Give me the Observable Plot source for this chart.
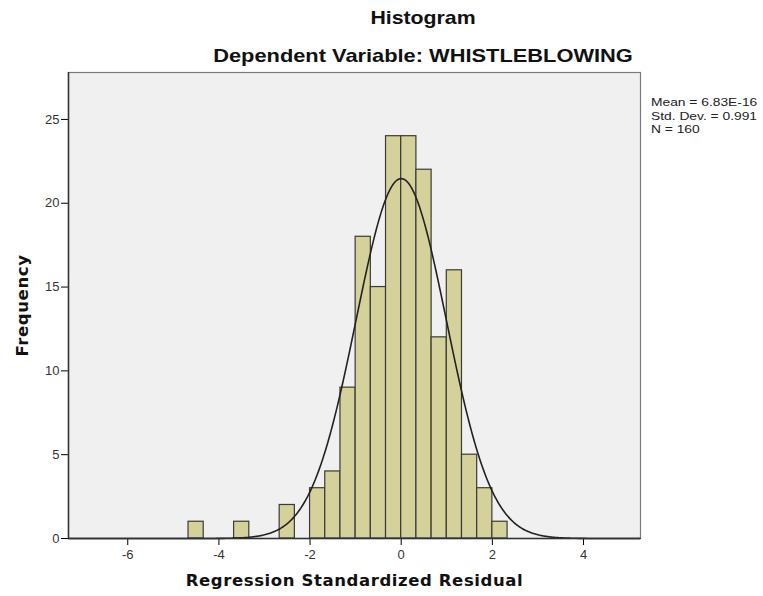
<!DOCTYPE html>
<html>
<head>
<meta charset="utf-8">
<script src="https://cdn.jsdelivr.net/npm/d3@7"></script>
<script src="https://cdn.jsdelivr.net/npm/@observablehq/plot@0.6"></script>
<style>
  html, body { margin: 0; padding: 0; background: #fff; }
  #wrap { position: relative; width: 763px; height: 596px; overflow: hidden; }
  .t { position: absolute; font-family: "Liberation Sans", Arial, sans-serif; font-weight: bold; color: #111; white-space: nowrap; left: 0; width: 846px; text-align: center; transform-origin: 423px 50%; }
  #title { top: 7px; font-size: 18.5px; transform: scaleX(1.15); }
  #subtitle { top: 45px; font-size: 18.5px; transform: scaleX(1.18); }
  .lg { position: absolute; left: 651px; font-family: "Liberation Sans", Arial, sans-serif; font-size: 11.5px; line-height: 13px; height: 13px; color: #222; white-space: nowrap; transform: scaleX(1.2); transform-origin: 0 0; }
  svg [aria-label="x-axis label"] text, svg [aria-label="y-axis label"] text { font-family: "DejaVu Sans", Verdana, sans-serif; font-weight: bold; font-size: 16.5px; fill: #111; letter-spacing: 0.6px; }
  svg [aria-label="x-axis tick label"] text, svg [aria-label="y-axis tick label"] text { font-family: "Liberation Sans", Arial, sans-serif; font-size: 13px; fill: #333; }
</style>
</head>
<body>
<div id="wrap">
  <div id="chart"></div>
  <div class="t" id="title">Histogram</div>
  <div class="t" id="subtitle">Dependent Variable: WHISTLEBLOWING</div>
  <div class="lg" style="top:96px">Mean = 6.83E-16</div>
  <div class="lg" style="top:109.5px">Std. Dev. = 0.991</div>
  <div class="lg" style="top:123px">N = 160</div>
</div>
<script>
// Histogram bins (left edges) and frequencies
const binStart = [-4.6667, -3.6667, -2.6667, -2.0, -1.6667, -1.3333, -1.0, -0.6667, -0.3333, 0.0, 0.3333, 0.6667, 1.0, 1.3333, 1.6667, 2.0];
const counts   = [1, 1, 2, 3, 4, 9, 18, 15, 24, 24, 22, 12, 16, 5, 3, 1];
const binWidth = 1 / 3;

// Summary statistics shown in the legend
const mean = 6.83e-16;
const stdDev = 0.991;
const n = 160;

const xTicks = [-6, -4, -2, 0, 2, 4];
const yTicks = [0, 5, 10, 15, 20, 25];

const xDomain = [-7.3, 5.25];
const yDomain = [0, 27.8];

const bars = binStart.map((s, i) => ({x1: s, x2: s + binWidth, count: counts[i]}));

// Normal curve implied by mean, std. dev., N and bin width
const curve = d3.range(xDomain[0], xDomain[1] + 0.001, 0.02).map(x => ({
  x,
  y: n * binWidth * Math.exp(-0.5 * ((x - mean) / stdDev) ** 2) / (stdDev * Math.sqrt(2 * Math.PI))
}));

const chart = Plot.plot({
  width: 763,
  height: 596,
  marginLeft: 68,
  marginRight: 123,
  marginTop: 72,
  marginBottom: 58,
  style: {background: "transparent", overflow: "visible"},
  x: {domain: xDomain, ticks: xTicks, tickFormat: d => d < 0 ? "-" + Math.abs(d) : String(d), label: "Regression Standardized Residual", labelArrow: "none", labelAnchor: "center", labelOffset: 47, tickSize: 7, tickPadding: 4},
  y: {domain: yDomain, ticks: yTicks, label: "Frequency", labelArrow: "none", labelAnchor: "center", labelOffset: 52, tickSize: 7, tickPadding: 2},
  marks: [
    Plot.frame({fill: "#f0f0f0", stroke: "#7a7a7a", strokeWidth: 1.2}),
    Plot.rectY(bars, {x1: "x1", x2: "x2", y: "count", fill: "#d5d19b", stroke: "#3a3a3a", strokeWidth: 1.2, inset: 0}),
    Plot.line(curve, {x: "x", y: "y", stroke: "#222", strokeWidth: 1.6}),
    Plot.ruleY([0], {stroke: "#333", strokeWidth: 1.5}),
    Plot.ruleX([xDomain[0]], {stroke: "#333", strokeWidth: 1.5})
  ]
});
document.getElementById("chart").appendChild(chart);
</script>
</body>
</html>
